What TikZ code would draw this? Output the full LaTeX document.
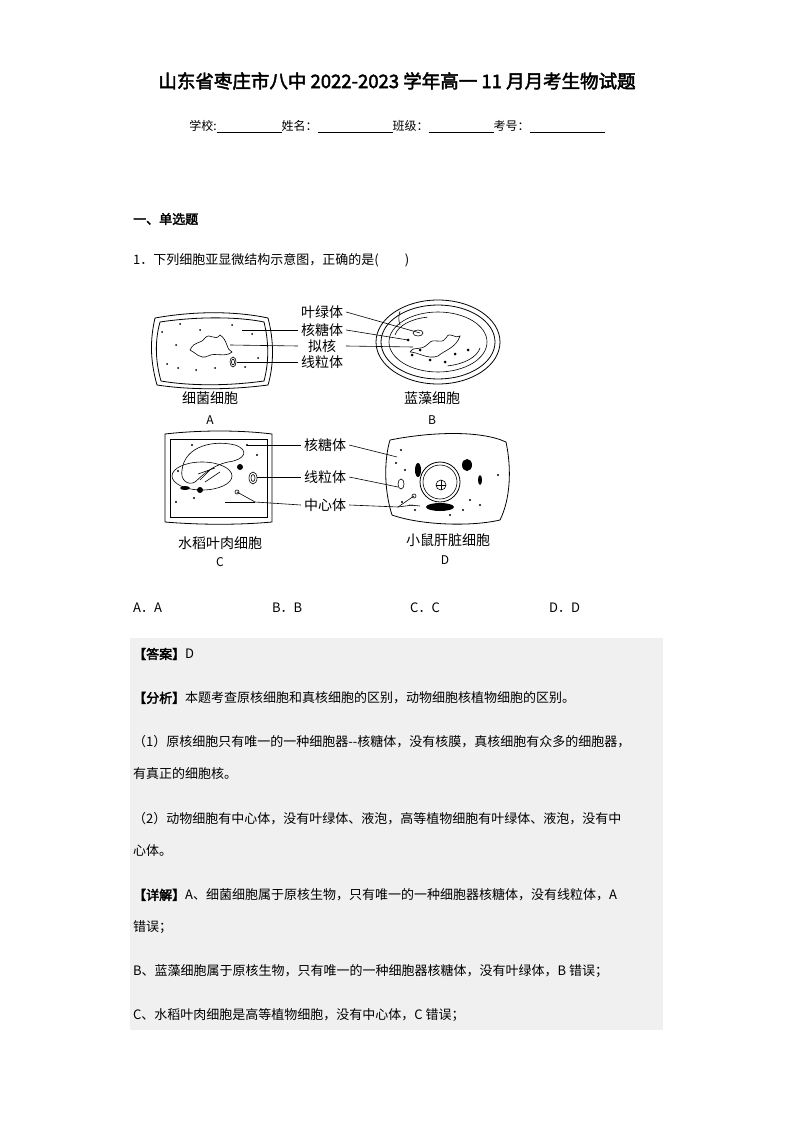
\documentclass[tikz,border=0pt]{standalone}
\usepackage{fontspec}
\setmainfont{Noto Sans CJK SC}[AutoFakeBold=2.5]
\begin{document}
\begin{tikzpicture}[x=1pt,y=-1pt,
  txt/.style={anchor=west,inner sep=0pt,font=\fontsize{13}{15}\selectfont},
  lbl/.style={anchor=center,inner sep=0pt,font=\fontsize{14}{16}\selectfont},
  ln/.style={line width=0.6pt},
  cellw/.style={line width=0.8pt}]
\useasboundingbox (0,0) rectangle (794,1123);
\fill[white] (0,0) rectangle (794,1123);
\node[anchor=center,inner sep=0pt,font=\fontsize{18.5}{20}\selectfont\bfseries] (title) at (397,81) {山东省枣庄市八中 2022-2023 学年高一 11 月月考生物试题};
\node[anchor=center,inner sep=0pt,font=\fontsize{12}{14}\selectfont] (info) at (397,126) {学校:\rule[-2pt]{65pt}{0.5pt}姓名：\rule[-2pt]{75pt}{0.5pt}班级：\rule[-2pt]{65pt}{0.5pt}考号：\rule[-2pt]{75pt}{0.5pt}};
\node[txt,font=\fontsize{13}{15}\selectfont\bfseries] (sec) at (133,219) {一、单选题};
\node[txt] (q) at (133,260) {1．下列细胞亚显微结构示意图，正确的是(\qquad)};

% ---- Cell A
\draw[cellw] (155,318) .. controls (200,310) and (240,312) .. (268,318) .. controls (274,340) and (274,365) .. (268,385) .. controls (230,390) and (190,390) .. (157,385) .. controls (150,360) and (150,340) .. (155,318);
\draw[cellw] (160,322) .. controls (200,316) and (240,317) .. (264,322) .. controls (269,342) and (269,362) .. (264,381) .. controls (228,386) and (190,386) .. (161,381) .. controls (155,360) and (155,340) .. (160,322);
\draw[ln] (190,350) .. controls (195,340) and (200,345) .. (205,338) .. controls (210,332) and (215,342) .. (220,335) .. controls (228,340) and (226,350) .. (232,352) .. controls (225,358) and (215,352) .. (208,356) .. controls (200,360) and (195,352) .. (190,350);
\draw[ln] (233,362) ellipse (3 and 5); \draw[ln] (233,362) ellipse (1.5 and 3);
\foreach \p in {(162,332),(180,324),(200,330),(232,325),(252,334),(176,345),(167,364),(178,368),(196,370),(215,368),(245,367),(258,358)} \fill \p circle (1);
% ---- Cell B
\draw[cellw] (438,342) ellipse (62 and 42);
\draw[cellw] (438,342) ellipse (57 and 37);
\draw[ln] (438,342) ellipse (49 and 30);
\draw[ln] (395,335) arc (190:260:40 and 22);
\draw[ln] (480,348) arc (10:80:40 and 22);
\draw[ln] (400,325) arc (160:200:20);
\draw[ln] (410,352) .. controls (415,345) and (420,352) .. (428,344) .. controls (435,336) and (440,346) .. (446,338) .. controls (450,330) and (455,340) .. (460,336) .. controls (456,348) and (445,350) .. (438,356) .. controls (428,360) and (418,352) .. (410,352);
\draw[ln] (418,333) ellipse (5 and 3);
\foreach \p in {(408,340),(420,350),(455,354),(468,350),(430,360),(445,362),(412,355)} \fill \p circle (1.5);
% ---- Cell C
\draw[cellw] (165,434) .. controls (200,430) and (240,430) .. (272,434) -- (272,522) .. controls (240,525) and (200,525) .. (165,522) -- cycle;
\draw[cellw] (170,439) -- (267,439) -- (267,517) -- (170,517) -- cycle;
\draw[ln] (182,470) .. controls (185,445) and (215,440) .. (235,445) .. controls (250,450) and (245,460) .. (228,462) .. controls (210,466) and (200,478) .. (195,482) .. controls (188,486) and (180,480) .. (182,470);
\draw[ln] (202,476) ellipse (30 and 14);
\draw[ln] (198,474) -- (215,468) (200,480) -- (210,470) (205,482) -- (220,472);
\draw[ln] (253,478) ellipse (4 and 6); \draw[ln] (253,478) ellipse (2 and 3.5);
\fill (240,467) circle (3); \fill (200,490) circle (3); \fill (185,488) ellipse (5 and 2);
\draw[ln] (225,502) -- (237,502); \draw[ln] (237,492) circle (2);
\foreach \p in {(192,445),(247,445),(257,455),(178,471),(194,498),(176,502)} \fill \p circle (1.1);
% ---- Cell D
\draw[cellw] (390,440) .. controls (430,432) and (480,430) .. (506,442) .. controls (512,470) and (510,500) .. (500,520) .. controls (470,527) and (420,525) .. (392,515) .. controls (384,490) and (384,460) .. (390,440);
\draw[cellw] (440,482) circle (20);
\draw[ln] (440,482) circle (17);
\draw[ln] (441,485) circle (5); \draw[ln] (436,485) -- (446,485) (441,480) -- (441,490);
\draw[ln] (401,484) ellipse (3 and 5);
\fill (418,470) ellipse (3 and 7);
\fill (467,465) ellipse (5 and 6);
\fill (440,507) ellipse (14 and 4);
\fill (480,480) ellipse (2 and 5);
\draw[ln] (409,505) -- (420,506); \draw[ln] (414,496) circle (2);
\foreach \p in {(401,450),(396,463),(405,470),(402,502),(415,510),(463,510),(480,505),(498,475),(450,515),(470,500)} \fill \p circle (1.1);

% ---- labels top
\node[lbl] (lyl) at (322,312) {叶绿体};
\node[lbl] (hty) at (322,330) {核糖体};
\node[lbl] (nh)  at (322,346) {拟核};
\node[lbl] (xlt) at (322,362) {线粒体};
\coordinate (a1) at (242,330); \coordinate (a2) at (230,345); \coordinate (a3) at (237,362);
\coordinate (b1) at (420,333); \coordinate (b2) at (408,340); \coordinate (b3) at (413,347);
\draw[ln] (a1) -- ([xshift=-3pt]hty.west); \draw[ln] (a2) -- ([xshift=-10pt]nh.west); \draw[ln] (a3) -- ([xshift=-3pt]xlt.west);
\draw[ln] ([xshift=3pt]lyl.east) -- (b1); \draw[ln] ([xshift=3pt]hty.east) -- (b2); \draw[ln] ([xshift=10pt]nh.east) -- (b3);
\node[lbl] (la) at (210,398) {细菌细胞};
\node[lbl,font=\fontsize{12}{14}\selectfont] (A) at (210,420) {A};
\node[lbl] (lb) at (432,398) {蓝藻细胞};
\node[lbl,font=\fontsize{12}{14}\selectfont] (B) at (432,420) {B};
% ---- labels bottom
\node[lbl] (hty2) at (325,445) {核糖体};
\node[lbl] (xlt2) at (325,477) {线粒体};
\node[lbl] (zxt)  at (325,505) {中心体};
\coordinate (c1) at (247,445); \coordinate (c2) at (257,477); \coordinate (c3) at (237,492); \coordinate (c4) at (230,502); \coordinate (cj) at (255,502);
\coordinate (d1) at (397,457); \coordinate (d2) at (398,487); \coordinate (dj) at (398,507); \coordinate (d3) at (414,496); \coordinate (d4) at (413,505);
\draw[ln] (c1) -- ([xshift=-3pt]hty2.west); \draw[ln] (c2) -- ([xshift=-3pt]xlt2.west);
\draw[ln] (c3) -- (cj) -- ([xshift=-3pt]zxt.west); \draw[ln] (c4) -- (cj);
\draw[ln] ([xshift=3pt]hty2.east) -- (d1); \draw[ln] ([xshift=3pt]xlt2.east) -- (d2);
\draw[ln] ([xshift=3pt]zxt.east) -- (dj) -- (d3); \draw[ln] (dj) -- (d4);
\node[lbl] (lc) at (220,543) {水稻叶肉细胞};
\node[lbl,font=\fontsize{12}{14}\selectfont] (C) at (220,562) {C};
\node[lbl] (ld) at (448,540) {小鼠肝脏细胞};
\node[lbl,font=\fontsize{12}{14}\selectfont] (D) at (445,560) {D};

% ---- options
\node[txt] (oa) at (133,608) {A．A};
\node[txt] (ob) at (272,608) {B．B};
\node[txt] (oc) at (410,608) {C．C};
\node[txt] (od) at (549,608) {D．D};

% ---- answer box
\fill[black!6] (130,638) rectangle (663,1030);
\node[txt] (p1) at (133,654) {\textbf{【答案】}D};
\node[txt] (p2) at (133,698) {\textbf{【分析】}本题考查原核细胞和真核细胞的区别，动物细胞核植物细胞的区别。};
\node[txt] (p3) at (133,742) {（1）原核细胞只有唯一的一种细胞器{-}{-}核糖体，没有核膜，真核细胞有众多的细胞器，};
\node[txt] (p4) at (133,774) {有真正的细胞核。};
\node[txt] (p5) at (133,819) {（2）动物细胞有中心体，没有叶绿体、液泡，高等植物细胞有叶绿体、液泡，没有中};
\node[txt] (p6) at (133,851) {心体。};
\node[txt] (p7) at (133,895) {\textbf{【详解】}A、细菌细胞属于原核生物，只有唯一的一种细胞器核糖体，没有线粒体，A};
\node[txt] (p8) at (133,927) {错误；};
\node[txt] (p9) at (133,971) {B、蓝藻细胞属于原核生物，只有唯一的一种细胞器核糖体，没有叶绿体，B 错误；};
\node[txt] (p10) at (133,1015) {C、水稻叶肉细胞是高等植物细胞，没有中心体，C 错误；};
\end{tikzpicture}
\end{document}
